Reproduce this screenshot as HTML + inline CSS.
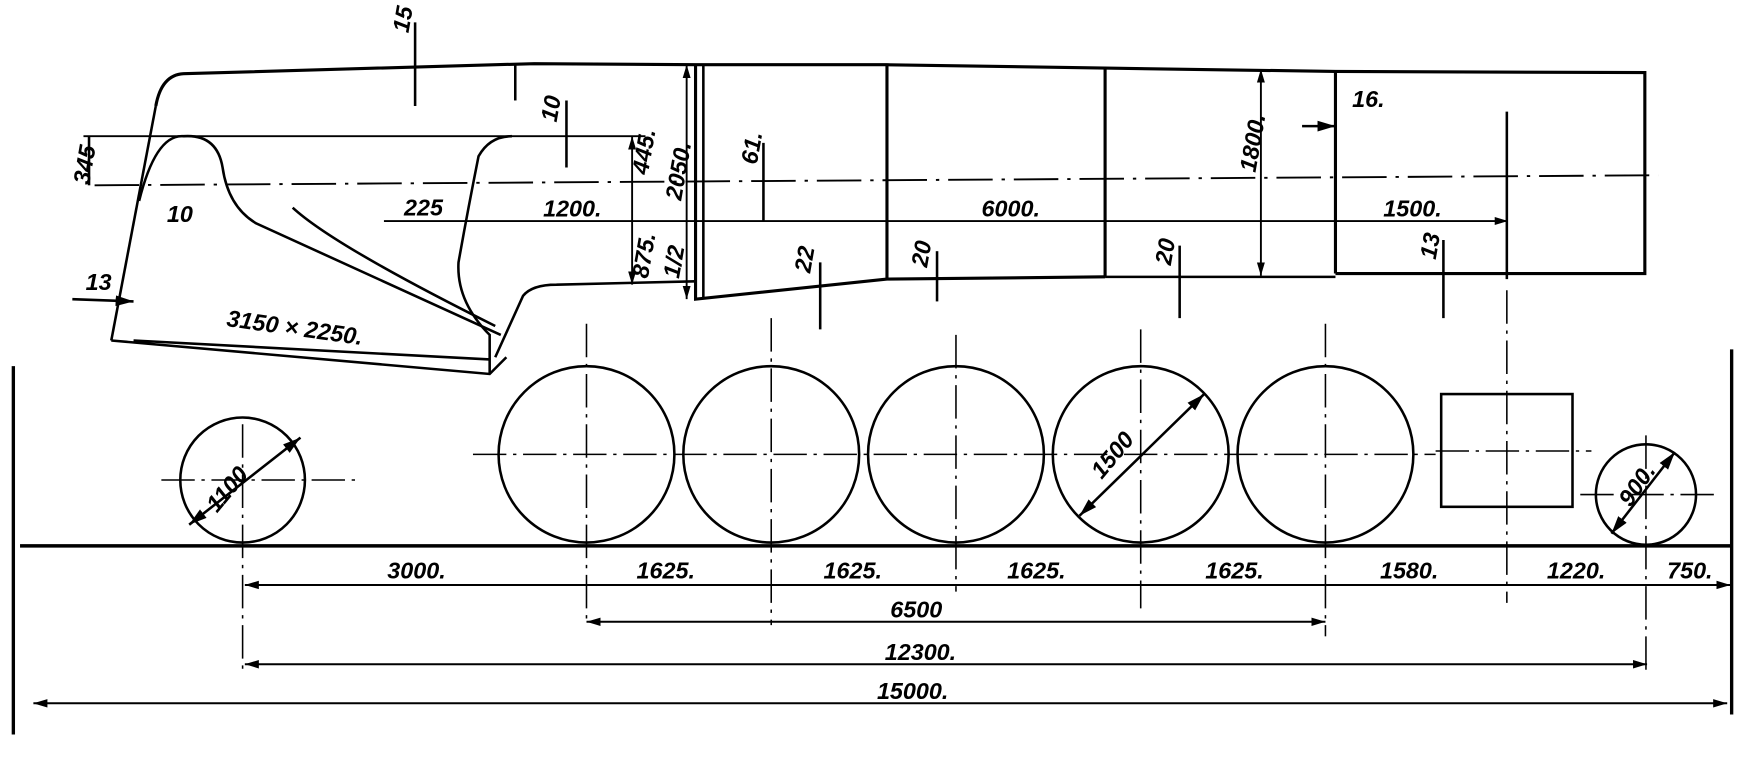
<!DOCTYPE html>
<html><head><meta charset="utf-8"><style>
html,body{margin:0;padding:0;background:#fff;}
svg{display:block}
text{font-family:"Liberation Sans",sans-serif;font-style:italic;font-weight:bold;font-size:21px;fill:#000}
</style></head><body>
<svg width="1745" height="758" viewBox="0 0 1568 679" preserveAspectRatio="none" xmlns="http://www.w3.org/2000/svg">
<defs><marker id="a" viewBox="0 0 10 10" refX="10" refY="5" markerWidth="7" markerHeight="7" orient="auto-start-reverse"><path d="M0 2 L10 5 L0 8 z" fill="#000"/></marker></defs>
<g stroke="#000" fill="none" stroke-width="2.3">
<path d="M140 95 Q145 67 165 66 L480 57 L625 58 L797 58 L993 61 L1200 64 L1478 65 L1478 245 L1200 245 M993 248 L797 250 L625 268 L625 58" stroke-width="2.8"/>
<line x1="797" y1="58" x2="797" y2="250" stroke-width="2.8"/>
<line x1="993" y1="61" x2="993" y2="248" stroke-width="2.8"/>
<line x1="1200" y1="64" x2="1200" y2="245" stroke-width="2.8"/>
<line x1="993" y1="248" x2="1200" y2="248"/>
<line x1="632" y1="58" x2="632" y2="268"/>
<line x1="140" y1="95" x2="100" y2="305"/>
<path d="M100 305 L440 335 L455 320 M120 305 L440 322"/>
<path d="M125 180 Q140 120 165 122 Q195 120 200 150 Q205 185 230 200 L450 300"/>
<path d="M263 186 Q300 220 445 292"/>
<path d="M440 335 L440 300 Q410 270 412 235 Q420 190 430 140 Q440 122 460 122"/>
<path d="M445 320 L470 265 Q478 255 500 255 L625 252"/>
<line x1="75" y1="122" x2="580" y2="122" stroke-width="1.7"/>
<line x1="85" y1="166" x2="1490" y2="157" stroke-width="1.7" stroke-dasharray="40 8 3 8"/>
<line x1="345" y1="198" x2="1355" y2="198" stroke-width="1.7" marker-end="url(#a)"/>
<line x1="463" y1="58" x2="463" y2="90"/>
<line x1="568" y1="122" x2="568" y2="255" stroke-width="1.7" marker-start="url(#a)" marker-end="url(#a)"/>
<line x1="617" y1="58" x2="617" y2="268" stroke-width="1.7" marker-start="url(#a)" marker-end="url(#a)"/>
<line x1="1133" y1="62" x2="1133" y2="247" stroke-width="1.7" marker-start="url(#a)" marker-end="url(#a)"/>
<line x1="1354" y1="100" x2="1354" y2="250"/>
<line x1="1170" y1="113" x2="1200" y2="113" marker-end="url(#a)"/>
<line x1="373" y1="20" x2="373" y2="95"/>
<line x1="509" y1="90" x2="509" y2="150"/>
<line x1="686" y1="128" x2="686" y2="198"/>
<line x1="737" y1="235" x2="737" y2="295"/>
<line x1="842" y1="225" x2="842" y2="270"/>
<line x1="1060" y1="220" x2="1060" y2="285"/>
<line x1="1297" y1="215" x2="1297" y2="285"/>
<line x1="80" y1="122" x2="80" y2="166"/>
<line x1="65" y1="268" x2="120" y2="270" marker-end="url(#a)"/>
<line x1="18" y1="489" x2="1555" y2="489" stroke-width="3.2"/>
<line x1="12" y1="328" x2="12" y2="658" stroke-width="3"/>
<line x1="1556" y1="313" x2="1556" y2="640" stroke-width="3"/>
<circle cx="218" cy="430" r="56"/>
<circle cx="527" cy="407" r="79"/>
<circle cx="693" cy="407" r="79"/>
<circle cx="859" cy="407" r="79"/>
<circle cx="1025" cy="407" r="79"/>
<circle cx="1191" cy="407" r="79"/>
<circle cx="1479" cy="443" r="45"/>
<rect x="1295" y="353" width="118" height="101"/>
<line x1="170" y1="470" x2="270" y2="392" marker-start="url(#a)" marker-end="url(#a)"/>
<line x1="970" y1="462" x2="1082" y2="353" marker-start="url(#a)" marker-end="url(#a)"/>
<line x1="1448" y1="478" x2="1505" y2="405" marker-start="url(#a)" marker-end="url(#a)"/>
<g stroke-width="1.4" stroke-dasharray="30 6 3 6">
<line x1="145" y1="430" x2="320" y2="430"/>
<line x1="425" y1="407" x2="1290" y2="407"/>
<line x1="1290" y1="404" x2="1430" y2="404"/>
<line x1="1420" y1="443" x2="1540" y2="443"/>
<line x1="218" y1="380" x2="218" y2="600"/>
<line x1="527" y1="290" x2="527" y2="560"/>
<line x1="693" y1="285" x2="693" y2="560"/>
<line x1="859" y1="300" x2="859" y2="530"/>
<line x1="1025" y1="295" x2="1025" y2="545"/>
<line x1="1191" y1="290" x2="1191" y2="570"/>
<line x1="1354" y1="260" x2="1354" y2="540"/>
<line x1="1479" y1="390" x2="1479" y2="600"/>
</g>
<line x1="220" y1="524" x2="1555" y2="524" stroke-width="1.8" marker-start="url(#a)" marker-end="url(#a)"/>
<line x1="527" y1="557" x2="1191" y2="557" stroke-width="1.8" marker-start="url(#a)" marker-end="url(#a)"/>
<line x1="220" y1="595" x2="1480" y2="595" stroke-width="1.8" marker-start="url(#a)" marker-end="url(#a)"/>
<line x1="30" y1="630" x2="1552" y2="630" stroke-width="1.8" marker-start="url(#a)" marker-end="url(#a)"/>
</g>
<g>
<text x="348" y="518">3000.</text>
<text x="572" y="518">1625.</text>
<text x="740" y="518">1625.</text>
<text x="905" y="518">1625.</text>
<text x="1083" y="518">1625.</text>
<text x="1240" y="518">1580.</text>
<text x="1390" y="518">1220.</text>
<text x="1498" y="518">750.</text>
<text x="800" y="553">6500</text>
<text x="795" y="591">12300.</text>
<text x="788" y="626">15000.</text>
<text x="203" y="292" transform="rotate(8 203 292)">3150 × 2250.</text>
<text x="882" y="194">6000.</text>
<text x="1243" y="194">1500.</text>
<text x="488" y="194">1200.</text>
<text x="363" y="193">225</text>
<text x="150" y="199" font-size="16">10</text>
<text x="77" y="260" font-size="17">13</text>
<text x="1215" y="96" font-size="17">16.</text>
<text transform="translate(367 30) rotate(-80)" font-size="16">15</text>
<text transform="translate(500 110) rotate(-80)" font-size="17">10</text>
<text transform="translate(680 148) rotate(-80)" font-size="17">61.</text>
<text transform="translate(728 245) rotate(-80)" font-size="17">22</text>
<text transform="translate(833 240) rotate(-80)" font-size="17">20</text>
<text transform="translate(1052 238) rotate(-80)" font-size="17">20</text>
<text transform="translate(1290 233) rotate(-80)" font-size="17">13</text>
<text transform="translate(1128 155) rotate(-80)">1800.</text>
<text transform="translate(612 180) rotate(-80)">2050.</text>
<text transform="translate(582 157) rotate(-80)">445.</text>
<text transform="translate(582 250) rotate(-80)">875.</text>
<text transform="translate(610 250) rotate(-80)" font-size="15">1/2</text>
<text transform="translate(80 166) rotate(-80)" font-size="19">345</text>
<text transform="translate(195 460) rotate(-50)" font-size="18">1100</text>
<text transform="translate(990 430) rotate(-50)">1500</text>
<text transform="translate(1465 455) rotate(-55)" font-size="18">900.</text>
</g>
</svg>
</body></html>
